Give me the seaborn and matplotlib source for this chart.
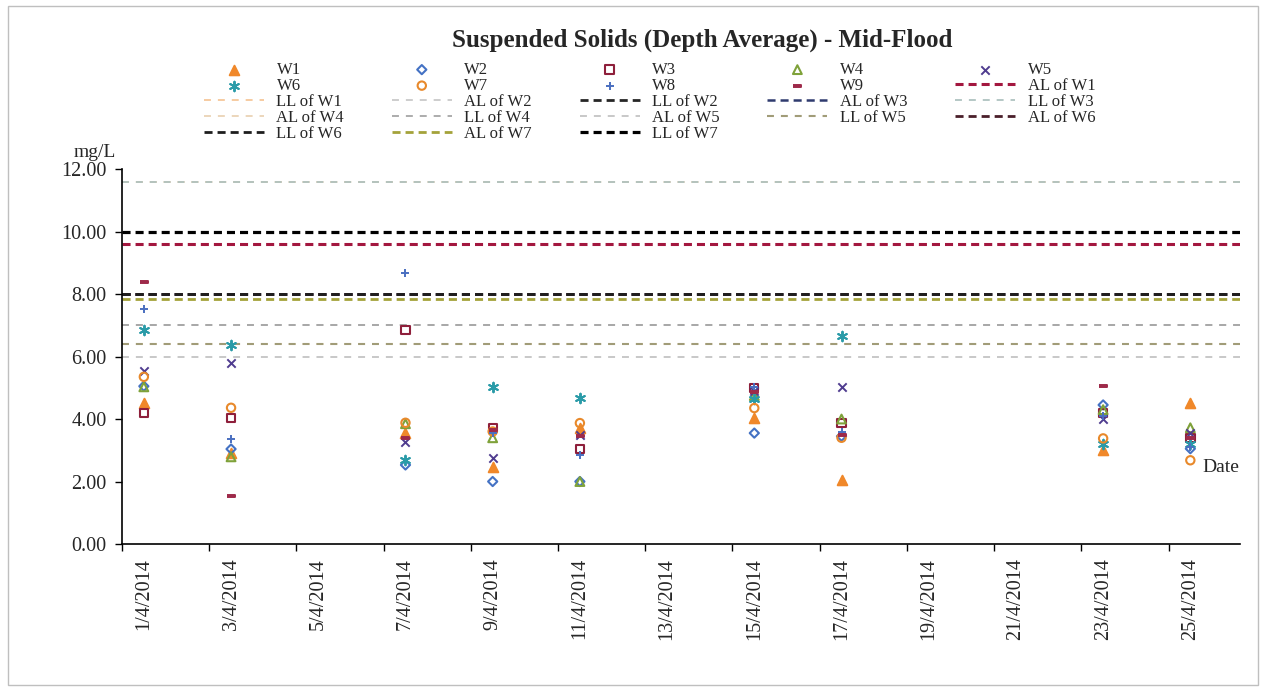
"""
Suspended Solids (Depth Average) - Mid-Flood
Scatter of station readings with action / limit level lines
"""

import matplotlib
matplotlib.use('Agg')
import matplotlib.pyplot as plt
import matplotlib.patches as patches
import seaborn as sns

sns.set_theme(style='white')
plt.rcParams['font.family'] = ['Liberation Serif', 'DejaVu Serif']

# Sampling days (April 2014) and readings per station (mg/L)
days = [1, 3, 7, 9, 11, 15, 17, 23, 25]
w1 = [4.52, 2.90, 3.55, 2.47, 3.70, 4.03, 2.05, 3.00, 4.52]
w2 = [5.05, 3.04, 2.53, 2.00, 2.00, 3.55, 3.45, 4.45, 3.05]
w3 = [4.20, 4.04, 6.85, 3.72, 3.05, 5.00, 3.88, 4.20, 3.40]
w4 = [5.03, 2.79, 3.85, 3.40, 2.00, 4.75, 4.00, 4.30, 3.72]
w5 = [5.54, 5.80, 3.27, 2.75, 3.50, 4.90, 5.04, 4.00, 3.55]
w6 = [6.86, 6.36, 2.69, 5.03, 4.68, 4.65, 6.66, 3.20, 3.20]
w7 = [5.35, 4.36, 3.88, 3.60, 3.87, 4.35, 3.40, 3.38, 2.68]
w8 = [7.53, 3.37, 8.68, 3.55, 2.85, 5.02, 3.60, 4.10, 3.10]
w9 = [8.40, 1.54, 3.40, 3.65, 3.45, 4.85, 3.50, 5.05, 3.40]

stations = ['W1', 'W2', 'W3', 'W4', 'W5', 'W6', 'W7', 'W8', 'W9']
readings = [w1, w2, w3, w4, w5, w6, w7, w8, w9]

# Action level / limit level for W1..W7
action_levels = [9.60, 7.00, 8.00, 6.40, 6.00, 8.00, 7.85]
limit_levels = [11.60, 8.00, 11.60, 7.00, 6.40, 8.00, 10.00]

tick_days = [1, 3, 5, 7, 9, 11, 13, 15, 17, 19, 21, 23, 25]
tick_labels = [f'{d}/4/2014' for d in tick_days]

# marker styles per station: (marker, colour, filled, size)
dash_marker = [(-1, -0.32), (1, -0.32), (1, 0.32), (-1, 0.32)]
marker_styles = [
    ('^', '#F0882A', True, 48),
    ('D', '#4472C4', False, 22),
    ('s', '#8E1F3B', False, 36),
    ('^', '#7FA23A', False, 40),
    ('x', '#4F3C8F', True, 36),
    ((6, 2, 0), '#2A9BA8', True, 48),
    ('o', '#E8892B', False, 36),
    ('+', '#4A6FC0', True, 40),
    (dash_marker, '#9E2A4A', True, 40),
]

al_styles = [('#A3173F', 2.2), ('#C9C9C9', 1.3), ('#2F3B6E', 1.8), ('#EBD3B5', 1.3),
             ('#C4C4C4', 1.3), ('#4A1F2A', 2.0), ('#A4A23A', 2.0)]
ll_styles = [('#F6C79A', 1.3), ('#262626', 2.0), ('#AFC3C0', 1.3), ('#A6A6A6', 1.3),
             ('#A19C78', 1.5), ('#1E1E1E', 2.0), ('#000000', 2.3)]

fig = plt.figure(figsize=(12.66, 6.91), dpi=100)
ax = fig.add_axes([0.0964, 0.2127, 0.8831, 0.5427])

# Reference lines
for i in range(7):
    for kind, level, (col, lw) in (('AL', action_levels[i], al_styles[i]),
                                   ('LL', limit_levels[i], ll_styles[i])):
        on, off = (5.8, 3.6) if lw >= 1.8 else (5.0, 5.0)
        ax.axhline(level, color=col, lw=lw, linestyle=(0, (on / lw, off / lw)),
                   label=f'{kind} of W{i + 1}', zorder=1)

# Station readings
for name, vals, (mk, col, filled, size) in zip(stations, readings, marker_styles):
    if filled:
        sns.scatterplot(x=days, y=vals, ax=ax, marker=mk, s=size, color=col,
                        edgecolor=col, linewidth=1.4, label=name, zorder=3)
    else:
        sns.scatterplot(x=days, y=vals, ax=ax, marker=mk, s=size, color=col,
                        facecolor='none', edgecolor=col, linewidth=1.5,
                        label=name, zorder=3)

ax.set_xlim(0.5, 26.14)
ax.set_ylim(0, 12)
ax.set_yticks([0, 2, 4, 6, 8, 10, 12])
ax.set_yticklabels([f'{v:.2f}' for v in [0, 2, 4, 6, 8, 10, 12]], fontsize=14.5)
ax.set_xticks([0.5 + 2 * k for k in range(13)])
ax.set_xticklabels([])
ax.set_xticks(tick_days, minor=True)
ax.set_xticklabels(tick_labels, minor=True, rotation=90, fontsize=14.5)
ax.tick_params(axis='x', which='major', direction='out', length=5, width=1, color='black', bottom=True)
ax.tick_params(axis='x', which='minor', length=0, pad=10)
ax.tick_params(axis='y', direction='out', length=5, width=1, color='black', left=True, pad=6)
for side in ['top', 'right']:
    ax.spines[side].set_visible(False)
for side in ['left', 'bottom']:
    ax.spines[side].set_color('black')
    ax.spines[side].set_linewidth(1.2)
ax.set_xlabel('')
ax.set_ylabel('')
ax.grid(False)

ax.text(-0.005, 1.045, 'mg/L', transform=ax.transAxes, ha='right', va='center', fontsize=14)
ax.text(0.9995, 2.45, 'Date', transform=ax.get_yaxis_transform(), ha='right', va='center', fontsize=14)

fig.text(0.555, 1 - 40 / 691, 'Suspended Solids (Depth Average) - Mid-Flood',
         ha='center', va='center', fontsize=18, fontweight='bold')

# Legend: row-major order in 5 columns
handles, labels = ax.get_legend_handles_labels()
lookup = dict(zip(labels, handles))
order = stations + [f'{k} of W{i}' for i in range(1, 8) for k in ('AL', 'LL')]
ncol = 5
nrow = 5
col_order = [r * ncol + c for c in range(ncol) for r in range(nrow) if r * ncol + c < len(order)]
leg_labels = [order[i] for i in col_order]
leg_handles = [lookup[l] for l in leg_labels]
ax.legend(leg_handles, leg_labels, ncol=ncol, frameon=False, fontsize=12,
          loc='upper left', bbox_to_anchor=(204 / 1266, 1 - 62 / 691),
          bbox_transform=fig.transFigure, borderpad=0, borderaxespad=0,
          handlelength=3.6, handletextpad=0.75, columnspacing=2.86, labelspacing=0.0)

# chart area border
fig.patches.append(patches.Rectangle((8 / 1266, 6 / 691), 1250 / 1266, 679 / 691,
                                     transform=fig.transFigure, fill=False,
                                     edgecolor='#BFBFBF', linewidth=1))

plt.savefig('out.png', dpi=100)
plt.close()
